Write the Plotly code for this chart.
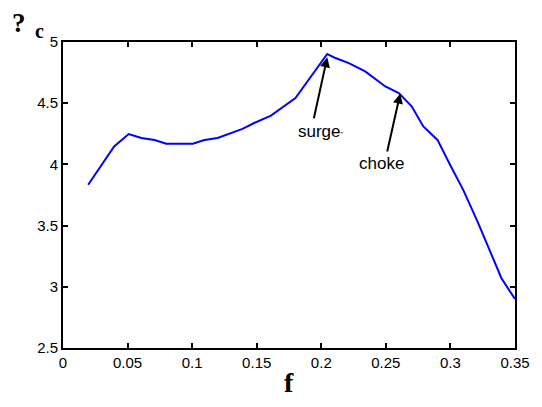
import plotly.graph_objects as go

# Data
f_vals = [0.0195, 0.0396, 0.0509, 0.0607, 0.0709, 0.080, 0.1005, 0.1095, 0.1197,
          0.1288, 0.139, 0.148, 0.161, 0.180, 0.190, 0.2046, 0.211, 0.2213, 0.234,
          0.2496, 0.26, 0.270, 0.279, 0.290, 0.2997, 0.31, 0.3215, 0.329, 0.3395, 0.35]
pi_c = [3.834, 4.147, 4.248, 4.216, 4.199, 4.169, 4.169, 4.199, 4.216,
        4.248, 4.29, 4.338, 4.398, 4.542, 4.692, 4.902, 4.869, 4.828, 4.76,
        4.637, 4.583, 4.475, 4.31, 4.20, 3.997, 3.79, 3.52, 3.33, 3.07, 2.90]

x_ticks = [0, 0.05, 0.1, 0.15, 0.2, 0.25, 0.3, 0.35]
x_tick_text = ["0", "0.05", "0.1", "0.15", "0.2", "0.25", "0.3", "0.35"]
y_ticks = [2.5, 3, 3.5, 4, 4.5, 5]
y_tick_text = ["2.5", "3", "3.5", "4", "4.5", "5"]

surge = dict(head=(0.2046, 4.875), tail=(0.194, 4.365), text=(0.1995, 4.27))
choke = dict(head=(0.2611, 4.578), tail=(0.2508, 4.093), text=(0.2467, 4.01))

fig = go.Figure()
fig.add_trace(go.Scatter(x=f_vals, y=pi_c, mode="lines",
                         line=dict(color="#0000ff", width=2), showlegend=False))

axis_common = dict(showgrid=False, zeroline=False, showline=True, linecolor="black",
                   linewidth=2, mirror="allticks", ticks="inside", ticklen=5,
                   tickwidth=1.5, tickcolor="black",
                   tickfont=dict(family="Liberation Sans, Arial", size=15, color="black"))

fig.update_xaxes(range=[0, 0.35], tickvals=x_ticks, ticktext=x_tick_text, **axis_common)
fig.update_yaxes(range=[2.5, 5], tickvals=y_ticks, ticktext=y_tick_text, **axis_common)

anns = []
for d in (surge, choke):
    anns.append(dict(x=d["head"][0], y=d["head"][1], ax=d["tail"][0], ay=d["tail"][1],
                     xref="x", yref="y", axref="x", ayref="y", text="",
                     showarrow=True, arrowhead=2, arrowsize=1, arrowwidth=2,
                     arrowcolor="black"))
anns.append(dict(x=surge["text"][0], y=surge["text"][1], xref="x", yref="y",
                 xanchor="center", yanchor="middle",
                 text="surge<span style='font-size:7px'>\"</span>", showarrow=False,
                 font=dict(family="Liberation Sans, Arial", size=17, color="black")))
anns.append(dict(x=choke["text"][0], y=choke["text"][1], xref="x", yref="y",
                 xanchor="center", yanchor="middle",
                 text="choke", showarrow=False,
                 font=dict(family="Liberation Sans, Arial", size=17, color="black")))
# y title "? c"
anns.append(dict(x=-0.097, y=1.062, xref="paper", yref="paper", showarrow=False,
                 xanchor="center", yanchor="middle",
                 text="<b>?</b>", font=dict(family="Liberation Serif, Times New Roman",
                                            size=27, color="black")))
anns.append(dict(x=-0.052, y=1.035, xref="paper", yref="paper", showarrow=False,
                 xanchor="center", yanchor="middle",
                 text="<b>c</b>", font=dict(family="Liberation Serif, Times New Roman",
                                            size=20, color="black")))
# x title "f"
anns.append(dict(x=0.5, y=-0.113, xref="paper", yref="paper", showarrow=False,
                 xanchor="center", yanchor="middle",
                 text="<b>f</b>", font=dict(family="Liberation Serif, Times New Roman",
                                            size=28, color="black")))

fig.update_layout(width=542, height=407, margin=dict(l=63, r=25, t=42, b=59),
                  plot_bgcolor="white", paper_bgcolor="white", annotations=anns)

fig.write_html("out.html", config={"displayModeBar": False})

# remove default page margin so the figure sits at the window's top-left
with open("out.html", "r", encoding="utf-8") as fh:
    html = fh.read()
html = html.replace("<head>", "<head><style>html,body{margin:0;padding:0;overflow:hidden;}</style>", 1)
with open("out.html", "w", encoding="utf-8") as fh:
    fh.write(html)
